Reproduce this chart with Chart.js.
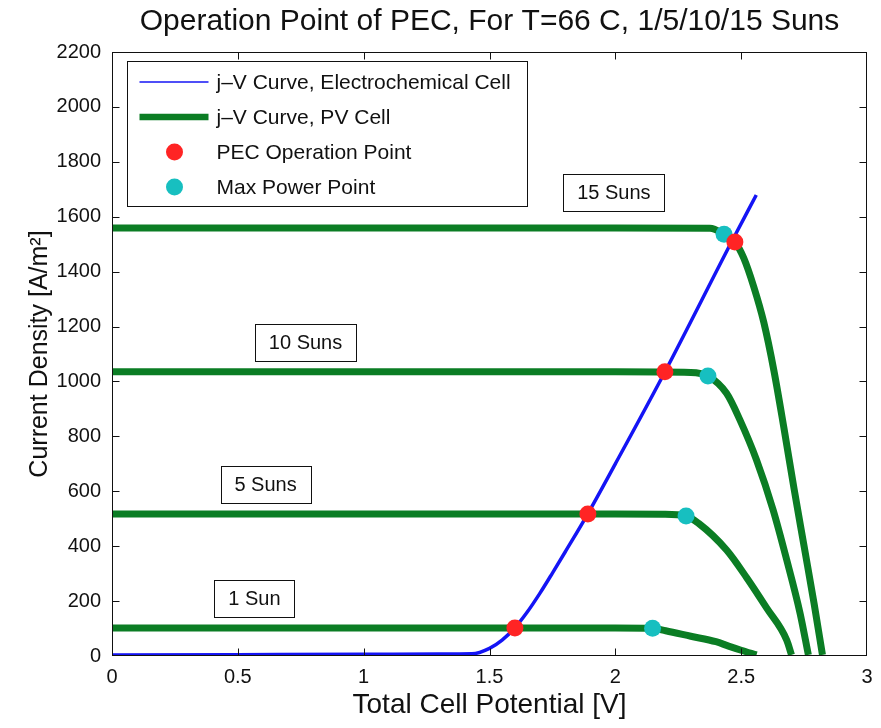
<!DOCTYPE html>
<html>
<head>
<meta charset="utf-8">
<script src="https://cdn.jsdelivr.net/npm/chart.js@4/dist/chart.umd.min.js"></script>
<style>
  html, body { margin: 0; padding: 0; background: #fff; }
  canvas { display: block; }
</style>
</head>
<body>
<canvas id="pec" width="881" height="728"></canvas>
<script>
// j-V curve of the electrochemical cell (potential in V, current density in A/m^2)
const ecV = [0, 0.5, 1.0, 1.3, 1.43, 1.50, 1.55, 1.60, 1.65, 1.70, 1.75, 1.80, 1.89, 2.00, 2.20, 2.46, 2.56];
const ecJ = [4, 5, 6, 7, 8, 28, 58, 102, 160, 228, 302, 378, 517, 700, 1040, 1505, 1679];

// j-V curves of the PV cell at 1, 5, 10 and 15 suns
const sun1V = [0, 1.0, 2.0, 2.148, 2.2, 2.3, 2.4, 2.45, 2.5, 2.561];
const sun1J = [102, 102, 102, 101, 92, 72, 52, 36, 21, 4];

const sun5V = [0, 1.0, 2.0, 2.19, 2.281, 2.331, 2.442, 2.522, 2.601, 2.681, 2.700];
const sun5J = [517, 517, 517, 516, 510, 483, 386, 285, 175, 58, 4];

const sun10V = [0, 1.0, 2.0, 2.30, 2.368, 2.442, 2.495, 2.561, 2.627, 2.681, 2.734, 2.767];
const sun10J = [1035, 1035, 1035, 1033, 1020, 957, 860, 714, 532, 350, 156, 4];

const sun15V = [0, 1.0, 2.0, 2.376, 2.432, 2.475, 2.51, 2.55, 2.59, 2.63, 2.67, 2.71, 2.75, 2.79, 2.823];
const sun15J = [1559, 1559, 1559, 1558, 1536, 1508, 1450, 1345, 1215, 1040, 830, 610, 400, 190, 4];

// PEC operation points (intersection of the two curves) and PV max power points
const pecV = [1.601, 1.891, 2.197, 2.475];
const pecJ = [102, 517, 1035, 1508];
const mppV = [2.148, 2.281, 2.368, 2.432];
const mppJ = [101, 510, 1020, 1536];

// Illumination labels and where they sit (data coordinates)
const sunLabels = ['1 Sun', '5 Suns', '10 Suns', '15 Suns'];
const sunLabelAt = [[0.566, 209], [0.610, 625], [0.769, 1142], [1.994, 1687]];

const titleText = 'Operation Point of PEC, For T=66 C, 1/5/10/15 Suns';

const FONT = '"Liberation Sans", Arial, Helvetica, sans-serif';
const BLUE = '#1414f5', GREEN = '#0b7d24', RED = '#ff2424', CYAN = '#17bfc0';

const legendItems = [
  { text: 'j\u2013V Curve, Electrochemical Cell', kind: 'line', color: BLUE, width: 1.5 },
  { text: 'j\u2013V Curve, PV Cell', kind: 'line', color: GREEN, width: 6.5 },
  { text: 'PEC Operation Point', kind: 'dot', color: RED },
  { text: 'Max Power Point', kind: 'dot', color: CYAN }
];

const pts = (xs, ys) => xs.map((v, i) => ({ x: v, y: ys[i] }));

const pvLine = (xs, ys) => ({
  data: pts(xs, ys), borderColor: GREEN, borderWidth: 7, pointRadius: 0,
  cubicInterpolationMode: 'monotone', borderCapStyle: 'butt', borderJoinStyle: 'round',
  order: 2, clip: 0
});

// Frame with inward ticks, label boxes, legend and title
const decorations = {
  id: 'decorations',
  afterDatasetsDraw(chart) {
    const { ctx, chartArea: a, scales: { x, y } } = chart;
    ctx.save();
    const L = Math.round(a.left) + 0.5, R = Math.round(a.right) - 0.5;
    const T = Math.round(a.top) + 0.5, B = Math.round(a.bottom) - 0.5;
    ctx.strokeStyle = '#111';
    ctx.lineWidth = 1;
    ctx.strokeRect(L, T, R - L, B - T);
    const tl = 7;
    ctx.beginPath();
    x.ticks.forEach(t => {
      const px = Math.round(x.getPixelForValue(t.value)) + 0.5;
      if (px <= L + 1 || px >= R - 1) return;
      ctx.moveTo(px, B); ctx.lineTo(px, B - tl);
      ctx.moveTo(px, T); ctx.lineTo(px, T + tl);
    });
    y.ticks.forEach(t => {
      const py = Math.round(y.getPixelForValue(t.value)) + 0.5;
      if (py <= T + 1 || py >= B - 1) return;
      ctx.moveTo(L, py); ctx.lineTo(L + tl, py);
      ctx.moveTo(R, py); ctx.lineTo(R - tl, py);
    });
    ctx.stroke();

    // sun labels in boxes
    ctx.font = '20px ' + FONT;
    ctx.textAlign = 'center';
    ctx.textBaseline = 'middle';
    sunLabels.forEach((s, i) => {
      const cx = x.getPixelForValue(sunLabelAt[i][0]);
      const cy = y.getPixelForValue(sunLabelAt[i][1]);
      const w = Math.round(ctx.measureText(s).width + 28), h = 37;
      const bx = Math.round(cx - w / 2) + 0.5, by = Math.round(cy - h / 2) + 0.5;
      ctx.fillStyle = '#fff';
      ctx.fillRect(bx, by, w, h);
      ctx.strokeStyle = '#111';
      ctx.strokeRect(bx, by, w, h);
      ctx.fillStyle = '#111';
      ctx.fillText(s, cx, cy + 1);
    });

    // legend
    const lx = Math.round(a.left) + 15.5, ly = Math.round(a.top) + 9.5;
    ctx.fillStyle = '#fff';
    ctx.fillRect(lx, ly, 400, 145);
    ctx.strokeStyle = '#111';
    ctx.lineWidth = 1;
    ctx.strokeRect(lx, ly, 400, 145);
    ctx.font = '21px ' + FONT;
    ctx.textAlign = 'left';
    legendItems.forEach((it, i) => {
      const ry = ly + 20.5 + i * 35;
      if (it.kind === 'line') {
        ctx.strokeStyle = it.color;
        ctx.lineWidth = it.width;
        ctx.beginPath();
        ctx.moveTo(lx + 12, ry); ctx.lineTo(lx + 81, ry);
        ctx.stroke();
      } else {
        ctx.fillStyle = it.color;
        ctx.beginPath();
        ctx.arc(lx + 47, ry, 8.5, 0, Math.PI * 2);
        ctx.fill();
      }
      ctx.fillStyle = '#111';
      ctx.fillText(it.text, lx + 89, ry + 1);
    });
    ctx.restore();
  },
  afterDraw(chart) {
    const { ctx, chartArea: a } = chart;
    ctx.save();
    ctx.font = '30px ' + FONT;
    ctx.fillStyle = '#111';
    ctx.textAlign = 'center';
    ctx.textBaseline = 'middle';
    ctx.fillText(titleText, (a.left + a.right) / 2, 22);
    ctx.restore();
  }
};

new Chart(document.getElementById('pec'), {
  type: 'line',
  data: {
    datasets: [
      { data: pts(pecV, pecJ), showLine: false, pointRadius: 8.5, pointBorderWidth: 0,
        pointBackgroundColor: RED, order: 0 },
      { data: pts(mppV, mppJ), showLine: false, pointRadius: 8.5, pointBorderWidth: 0,
        pointBackgroundColor: CYAN, order: 1 },
      pvLine(sun1V, sun1J),
      pvLine(sun5V, sun5J),
      pvLine(sun10V, sun10J),
      pvLine(sun15V, sun15J),
      { data: pts(ecV, ecJ), borderColor: BLUE, borderWidth: 3.5, pointRadius: 0,
        cubicInterpolationMode: 'monotone', order: 3 }
    ]
  },
  options: {
    responsive: false,
    animation: false,
    events: [],
    layout: { padding: { top: 52, right: 14, left: 0, bottom: 0 } },
    plugins: { legend: { display: false }, tooltip: { enabled: false } },
    scales: {
      x: {
        type: 'linear', min: 0, max: 3,
        grid: { display: false, drawTicks: false }, border: { display: false },
        ticks: { stepSize: 0.5, padding: 9, color: '#111', font: { family: FONT, size: 20 },
          callback: v => String(v), maxRotation: 0 },
        title: { display: true, text: 'Total Cell Potential [V]', color: '#111',
          font: { family: FONT, size: 28 }, padding: { top: 0, bottom: 6 } },
        afterFit: s => { s.height = 72; s.paddingLeft = 0; s.paddingRight = 0; }
      },
      y: {
        type: 'linear', min: 0, max: 2200,
        grid: { display: false, drawTicks: false }, border: { display: false },
        ticks: { stepSize: 200, padding: 11, color: '#111', font: { family: FONT, size: 20 },
          callback: v => String(v) },
        title: { display: true, text: 'Current Density [A/m\u00B2]', color: '#111',
          font: { family: FONT, size: 25 }, padding: { top: 25, bottom: 0 } },
        afterFit: s => { s.width = 112; s.paddingTop = 0; s.paddingBottom = 0; }
      }
    }
  },
  plugins: [decorations]
});
</script>
</body>
</html>
